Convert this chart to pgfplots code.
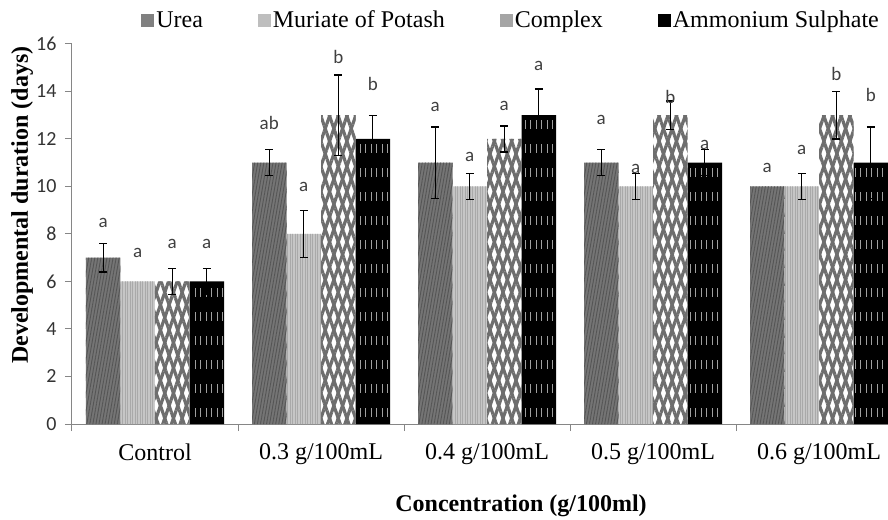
\documentclass[border=0pt]{standalone}
\usepackage{fontspec}
\setmainfont{Liberation Serif}
\newfontfamily\calibri{Carlito}
\usepackage{pgfplots}
\pgfplotsset{compat=1.18}
\usetikzlibrary{patterns,patterns.meta}
\definecolor{axisgray}{HTML}{868686}
\definecolor{ureaC}{HTML}{757575}
\definecolor{ureaL}{HTML}{555555}
\definecolor{mopC}{HTML}{C6C6C6}
\definecolor{mopL}{HTML}{A9A9A9}
\definecolor{compL}{HTML}{6E6E6E}
\definecolor{lgUrea}{HTML}{808080}
\definecolor{lgMop}{HTML}{BEBEBE}
\definecolor{lgComp}{HTML}{A5A5A5}
\definecolor{lettergray}{HTML}{404040}
\definecolor{tickgray}{HTML}{333333}
\pgfdeclarepatternformonly{asdash}{\pgfqpoint{-1pt}{-1pt}}{\pgfqpoint{6.5pt}{25pt}}{\pgfqpoint{5.5pt}{24pt}}{%
  \pgfsetlinewidth{1.3pt}%
  \pgfpathmoveto{\pgfqpoint{2.75pt}{6pt}}%
  \pgfpathlineto{\pgfqpoint{2.75pt}{15pt}}%
  \pgfusepath{stroke}}
\pgfplotstableread{
x   y
0   7
1   11
2   11
3   11
4   10
}\urea
\pgfplotstableread{
x   y
0   6
1   8
2   10
3   10
4   10
}\mop
\pgfplotstableread{
x   y
0   6
1   13
2   12
3   13
4   13
}\complex
\pgfplotstableread{
x   y
0   6
1   12
2   13
3   11
4   11
}\ammon
\pgfplotsset{
  errsty/.style={draw=none, mark=none, forget plot,
    error bars/y dir=both, error bars/y explicit,
    error bars/error bar style={line width=1.3pt, black},
    error bars/error mark options={rotate=90, mark size=4pt, line width=1.3pt, black}},
  letsty/.style={draw=none, mark=none, forget plot,
    nodes near coords, point meta=explicit symbolic},
  barsty/.style={ybar, bar width=34.5pt, draw=none}
}
\begin{document}
\begin{tikzpicture}
\useasboundingbox (-72pt,-95pt) rectangle (816pt,424pt);
\clip (-72pt,-95pt) rectangle (816pt,424pt);
\begin{axis}[
  at={(0pt,0pt)}, anchor=south west,
  scale only axis, width=830pt, height=380pt,
  xmin=-0.5, xmax=4.5, ymin=0, ymax=16,
  enlargelimits=false, clip=false,
  axis x line=bottom, axis y line=left,
  axis line style={-, draw=axisgray, line width=1pt},
  tick align=outside, major tick length=7pt,
  tick style={draw=axisgray, line width=1pt},
  /pgf/number format/assume math mode=true,
  xtick={-0.5,0.5,1.5,2.5,3.5,4.5},
  x tick label as interval,
  xticklabels={Control,0.3 g/100mL,0.4 g/100mL,0.5 g/100mL,0.6 g/100mL},
  xticklabel style={font=\fontsize{24}{28}\selectfont, text=black, yshift=-9pt},
  ytick={0,2,...,16},
  yticklabel style={font=\calibri\fontsize{20}{20}\selectfont, text=tickgray, xshift=-5pt},
  ylabel={Developmental duration (days)},
  ylabel style={at={(axis description cs:-0.0602,0.576)}, anchor=center, font=\bfseries\fontsize{24}{28}\selectfont},
  xlabel={Concentration (g/100ml)},
  xlabel style={at={(axis description cs:0.541,-0.216)}, anchor=center, font=\bfseries\fontsize{24}{28}\selectfont},
  legend columns=4,
  legend style={draw=none, fill=none, at={(axis description cs:0.529,1.063)}, anchor=center,
    font=\fontsize{24}{28}\selectfont,
    nodes={inner xsep=2pt, inner ysep=1pt},
    /tikz/every even column/.append style={column sep=53pt}},
  every node near coord/.append style={font=\calibri\fontsize{19}{19}\selectfont, text=lettergray, anchor=base, inner sep=0pt},
]
% solid bars (legend)
\addplot[barsty, bar shift=-51.75pt, fill=ureaC,
  legend image code/.code={\fill[lgUrea] (0pt,-6.5pt) rectangle (13pt,6.5pt);}]
  table[x=x,y=y]{\urea};
\addlegendentry{Urea}
\addplot[barsty, bar shift=-17.25pt, fill=mopC,
  legend image code/.code={\fill[lgMop] (0pt,-6.5pt) rectangle (13pt,6.5pt);}]
  table[x=x,y=y]{\mop};
\addlegendentry{Muriate of Potash}
\addplot[barsty, bar shift=17.25pt, fill=white,
  legend image code/.code={\fill[lgComp] (0pt,-6.5pt) rectangle (13pt,6.5pt);}]
  table[x=x,y=y]{\complex};
\addlegendentry{Complex}
\addplot[barsty, bar shift=51.75pt, fill=black,
  legend image code/.code={\fill[black] (0pt,-6.5pt) rectangle (13pt,6.5pt);}]
  table[x=x,y=y]{\ammon};
\addlegendentry{Ammonium Sulphate}
% texture overlays
\addplot[barsty, forget plot, bar shift=-51.75pt, pattern={Lines[angle=80,distance=3pt,line width=0.9pt]}, pattern color=ureaL]
  table[x=x,y=y]{\urea};
\addplot[barsty, forget plot, bar shift=-17.25pt, pattern={Lines[angle=90,distance=2.5pt,line width=0.7pt]}, pattern color=mopL]
  table[x=x,y=y]{\mop};
\addplot[barsty, forget plot, bar shift=17.25pt, pattern={Lines[angle=71,distance=8.2pt,line width=3.2pt]}, pattern color=compL]
  table[x=x,y=y]{\complex};
\addplot[barsty, forget plot, bar shift=17.25pt, pattern={Lines[angle=-71,distance=8.2pt,line width=3.2pt]}, pattern color=compL]
  table[x=x,y=y]{\complex};
\addplot[barsty, forget plot, bar shift=51.75pt, pattern=asdash, pattern color=gray!75]
  table[x=x,y=y]{\ammon};
% error bars (x at bar centres; only where an error is shown)
\addplot[errsty] table[x=x,y=y,y error=e]{
x y e
-0.3118 7 0.6
0.6882 11 0.55
1.6882 11 1.5
2.6882 11 0.55
};
\addplot[errsty] table[x=x,y=y,y error=e]{
x y e
0.8961 8 1.0
1.8961 10 0.55
2.8961 10 0.55
3.8961 10 0.55
};
\addplot[errsty] table[x=x,y=y,y error=e]{
x y e
0.1039 6 0.55
1.1039 13 1.7
2.1039 12 0.55
3.1039 13 0.6
4.1039 13 1.0
};
\addplot[errsty] table[x=x,y=y,y error=e]{
x y e
0.3118 6 0.55
1.3118 12 1.0
2.3118 13 1.1
3.3118 11 0.55
4.3118 11 1.5
};
% significance letters (baseline heights)
\addplot[letsty] table[x=x,y=y,meta=l]{
x y l
-0.3118 8.29 a
0.6882 12.38 ab
1.6882 13.15 a
2.6882 12.59 a
3.6882 10.58 a
};
\addplot[letsty] table[x=x,y=y,meta=l]{
x y l
-0.1039 6.99 a
0.8961 9.78 a
1.8961 11.05 a
2.8961 10.55 a
3.8961 11.33 a
};
\addplot[letsty] table[x=x,y=y,meta=l]{
x y l
0.1039 7.41 a
1.1039 15.19 b
2.1039 13.22 a
3.1039 13.50 b
4.1039 14.48 b
};
\addplot[letsty] table[x=x,y=y,meta=l]{
x y l
0.3118 7.41 a
1.3118 14.03 b
2.3118 14.88 a
3.3118 11.57 a
4.3118 13.57 b
};
\end{axis}
\end{tikzpicture}
\end{document}
